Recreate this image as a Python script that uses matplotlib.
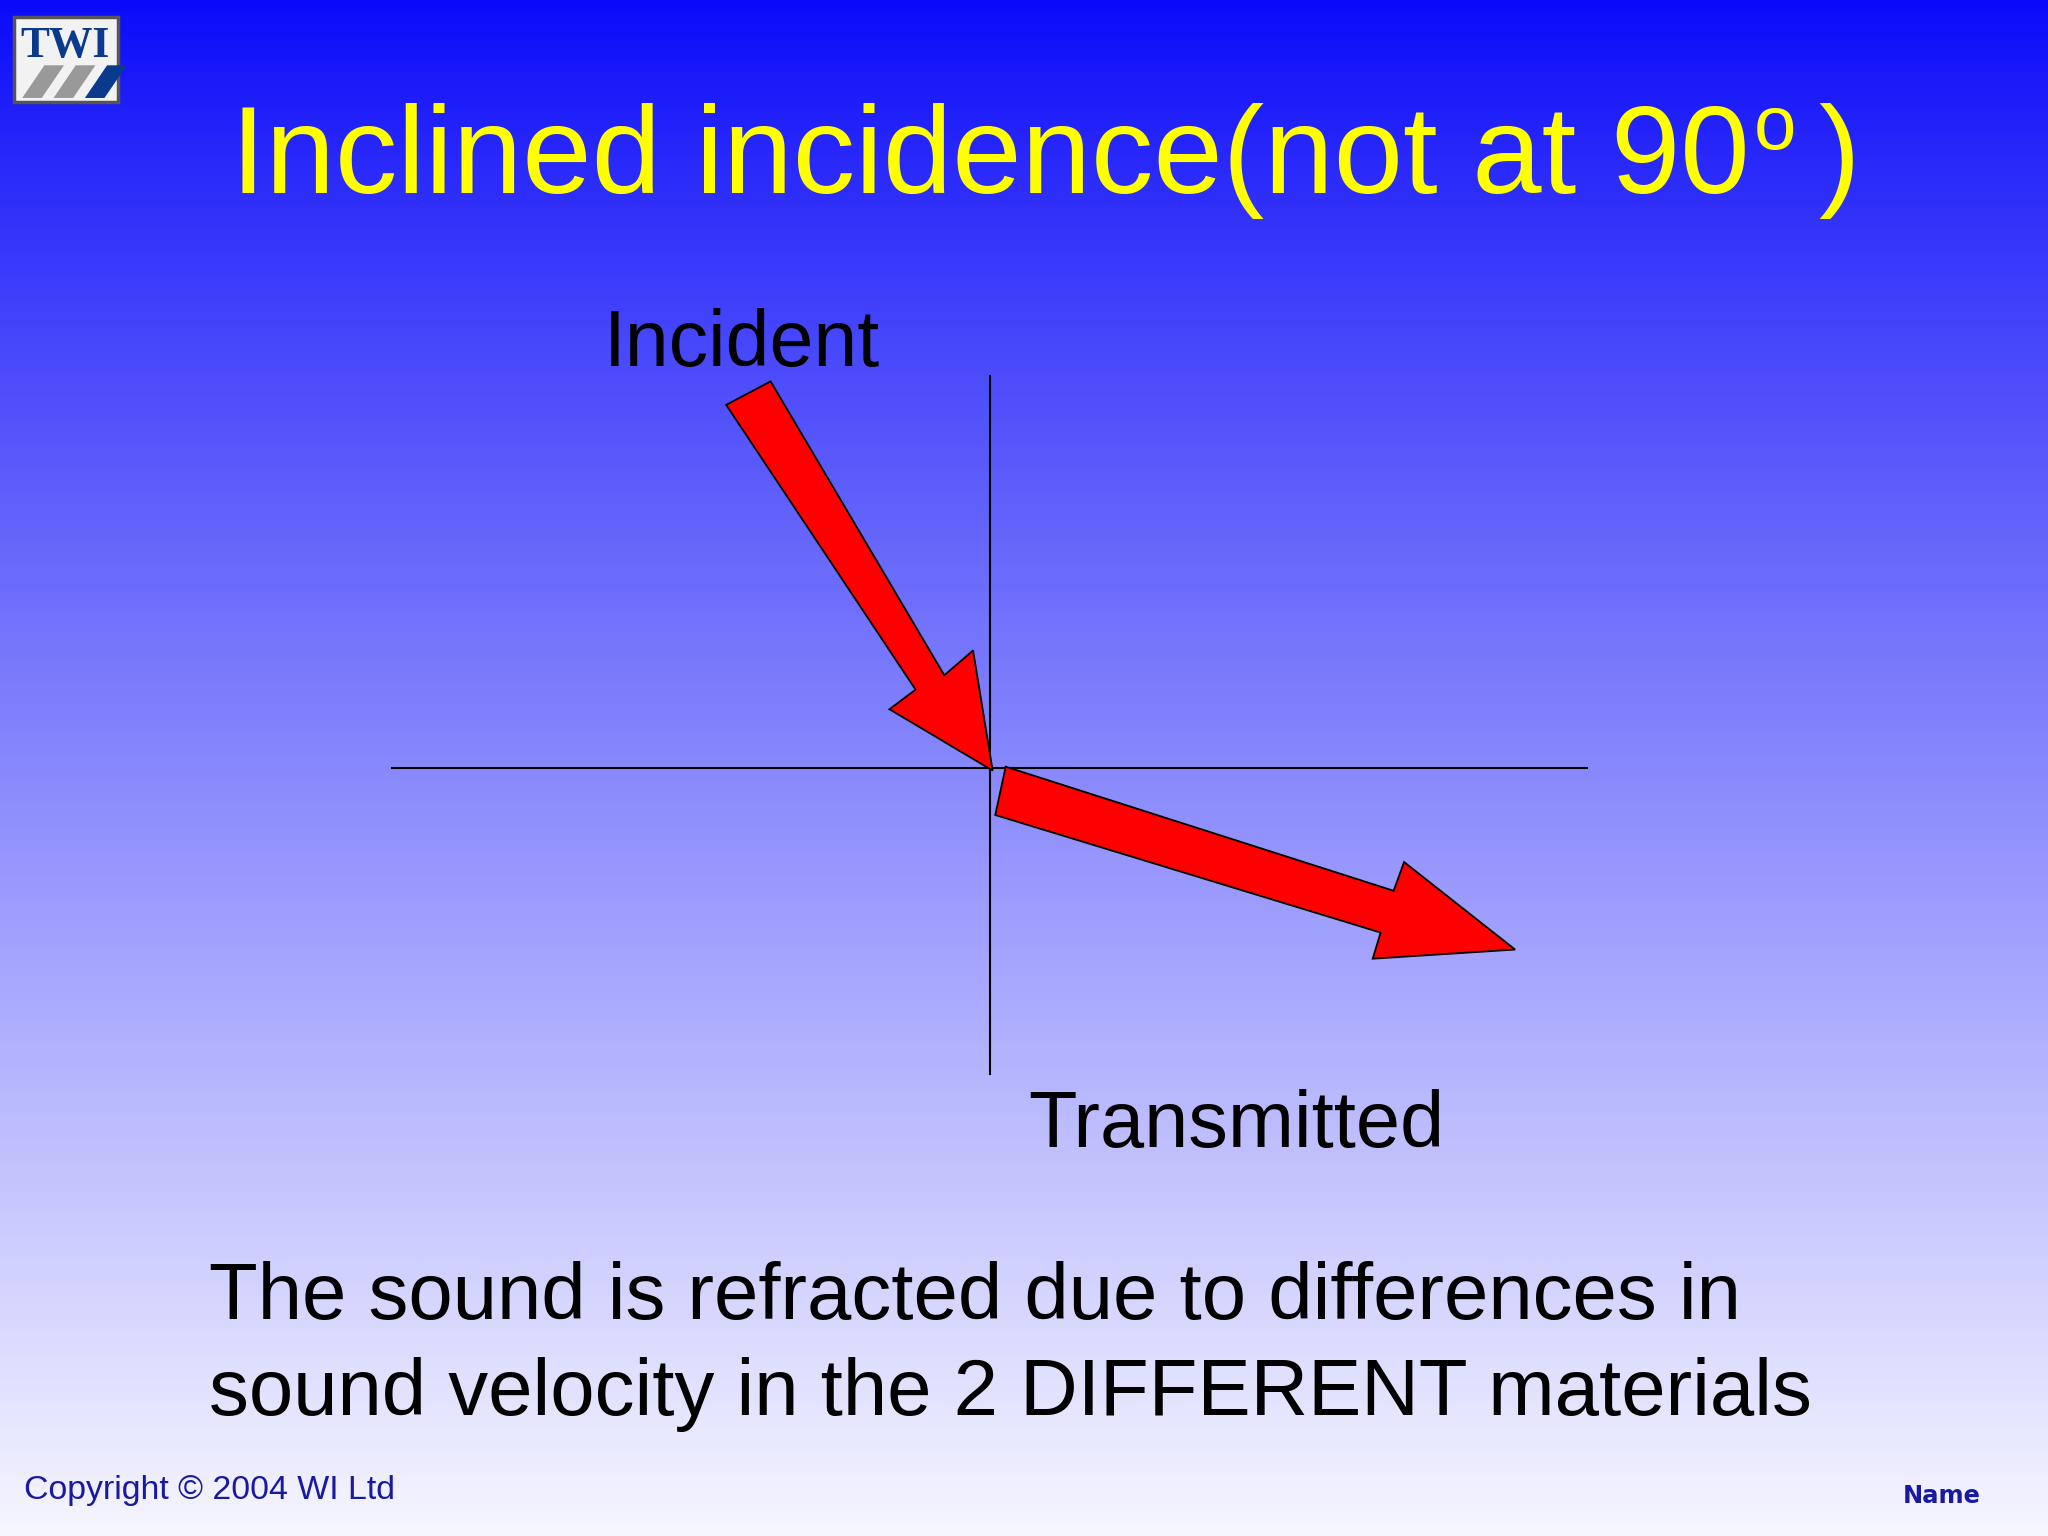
import matplotlib
matplotlib.use("Agg")
import matplotlib.pyplot as plt
import numpy as np
from matplotlib.patches import Polygon, Rectangle

title = "Inclined incidence(not at 90"
label_incident = "Incident"
label_transmitted = "Transmitted"
caption = ["The sound is refracted due to differences in",
           "sound velocity in the 2 DIFFERENT materials"]
copyright_txt = "Copyright © 2004 WI Ltd"
name_txt = "Name"
incident_arrow = [(556, 310), (590, 292), (723, 517), (745, 498), (760, 590), (681, 543), (701, 528)]
transmitted_arrow = [(770, 587), (762, 624), (1057, 714), (1051, 734), (1160, 727), (1075, 660), (1067, 682)]

W, H = 1568, 1176
fig = plt.figure(figsize=(20.48, 15.36), dpi=100)
ax = fig.add_axes([0, 0, 1, 1])
ax.set_xlim(0, W); ax.set_ylim(H, 0); ax.axis("off")

t = np.linspace(0, 1, 256)[:, None]
top = np.array([10, 10, 250]) / 255; bot = np.array([246, 246, 255]) / 255
grad = top + (bot - top) * t ** 0.9
img = np.repeat(grad[:, None, :], 2, axis=1).reshape(256, 2, 3)
ax.imshow(img, extent=[0, W, H, 0], aspect="auto", zorder=0)

F = "Liberation Sans"
s = 1.306
ax.text(177, 148, title, color="#ffff00", fontsize=68.8 * s, family=F, va="baseline")
ax.text(1343, 114, "o", color="#ffff00", fontsize=42 * s, family=F, va="baseline")
ax.text(1392, 148, ")", color="#ffff00", fontsize=68.8 * s, family=F, va="baseline")

ax.text(462, 280, label_incident, fontsize=43.5 * s, family=F, va="baseline", color="black")
ax.text(787, 878, label_transmitted, fontsize=43.8 * s, family=F, va="baseline", color="black")
for i, line in enumerate(caption):
    ax.text(160, 1010 + i * 73, line, fontsize=44 * s, family=F, va="baseline", color="black")

ax.plot([758, 758], [288, 822], color="black", lw=1.5, zorder=2)
ax.plot([300, 1215], [588, 588], color="black", lw=1.5, zorder=2)

for pts in (incident_arrow, transmitted_arrow):
    ax.add_patch(Polygon(pts, closed=True, fc="#ff0000", ec="black", lw=1.3, zorder=3))

ax.text(18, 1148, copyright_txt, fontsize=18.7 * s, family=F, color="#1a1aa0", va="baseline")
ax.text(1457, 1151, name_txt, fontsize=13.3 * s, family="DejaVu Sans", weight="bold", color="#1a1aa0", va="baseline")

# logo
ax.add_patch(Rectangle((11, 13), 79, 65, fc="#f2f2f2", ec="#555555", lw=2.5, zorder=4))
ax.text(50, 44, "TWI", family="Liberation Serif", weight="bold", fontsize=24 * s, color="#0a3a8c",
        ha="center", va="baseline", zorder=5)
for k, c in enumerate(["#999999", "#999999", "#0a3a8c"]):
    x0 = 17 + k * 24
    ax.add_patch(Polygon([(x0, 75), (x0 + 15, 75), (x0 + 32, 50), (x0 + 17, 50)], fc=c, ec="none", zorder=5))

fig.savefig("out.png", dpi=100)
